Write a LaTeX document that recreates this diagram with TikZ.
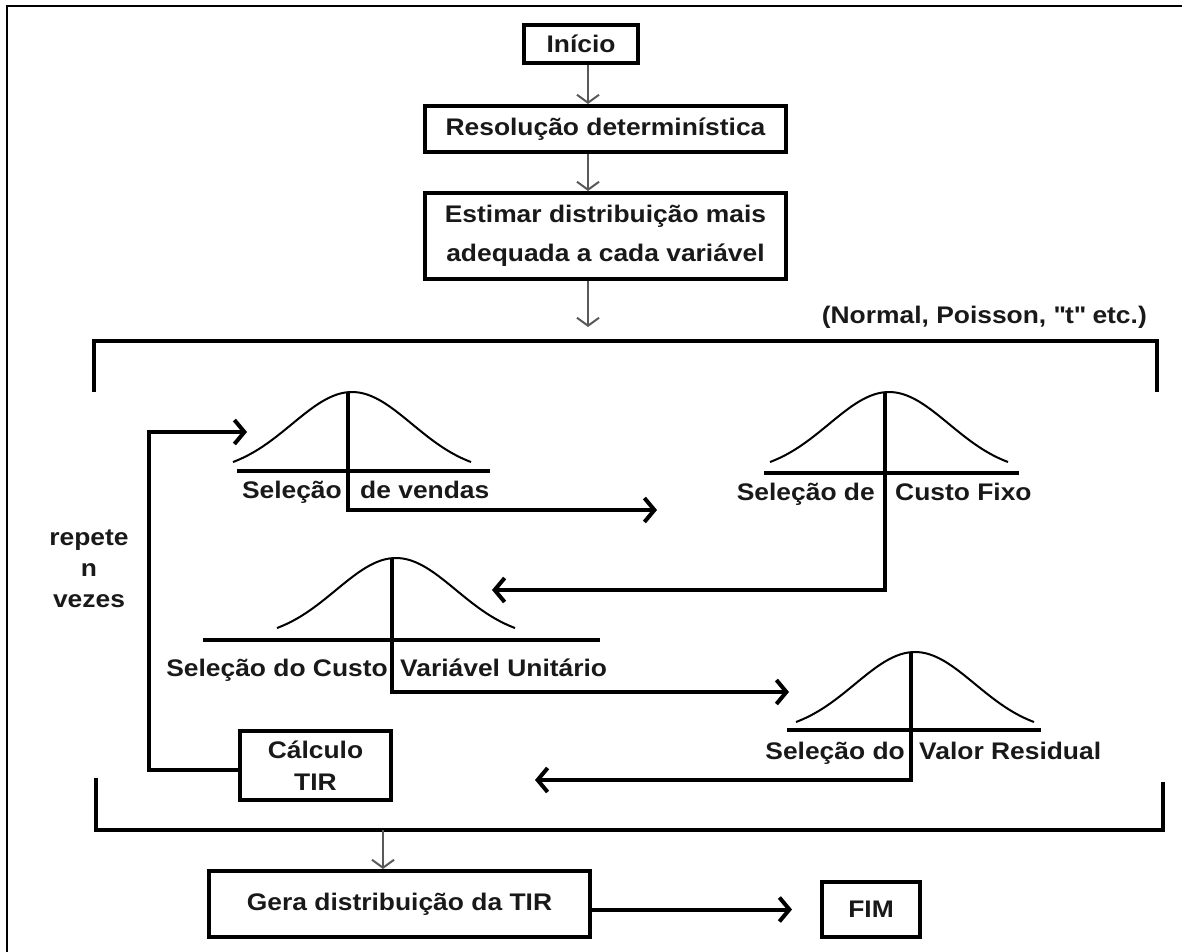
\documentclass[tikz,border=0pt]{standalone}
\usepackage{fontspec}
\setmainfont{Liberation Sans}[FakeStretch=1.1]
\usetikzlibrary{positioning, arrows.meta}

\begin{document}
\begin{tikzpicture}[x=1pt, y=-1pt,
        every node/.style={font=\fontsize{24}{36}\selectfont\bfseries, text=black!90},
        box/.style={rectangle, draw, line width=4pt, align=center, inner sep=0pt, minimum width=#1},
        lbl/.style={inner sep=0pt},
        thinarrow/.style={-{Straight Barb[length=8pt, width=22pt]}, line width=2pt, draw=black!65},
        flow/.style={-{Straight Barb[length=10pt, width=24pt]}, line width=4pt},
        bracket/.style={line width=4pt},
        bell/.style={line width=2pt}
    ]
    \useasboundingbox (0,0) rectangle (1182,952);
    \draw[line width=2pt] (7,6) rectangle (1200,970);
%
    \node[box=114pt, minimum height=38pt] (inicio) at (581,44) {Início};
    \node[box=361pt, minimum height=46pt, below=39pt of inicio, xshift=24.5pt] (resol) {Resolução determinística};
    \node[box=361pt, minimum height=86pt, below=37pt of resol, font=\fontsize{24}{39}\selectfont\bfseries] (estimar) {Estimar distribuição mais\\adequada a cada variável};
    \coordinate (dist) at (588,327);
    \node[lbl, anchor=east] (tipos) at (1147,317) {(Normal, Poisson, \textquotedbl t\textquotedbl\ etc.)};
%
    \draw[thinarrow] ([xshift=7pt]inicio.south) -- ([xshift=7pt]inicio.south |- resol.north);
    \draw[thinarrow] ([xshift=-17.5pt]resol.south) -- ([xshift=-17.5pt]resol.south |- estimar.north);
    \draw[thinarrow] ([xshift=-17.5pt]estimar.south) -- (dist);
%
    % chaves
    \draw[bracket] (94,392) |- (1157,341) -- (1157,392);
    \draw[bracket] (96,778) |- (1163,830) -- (1163,782);
%
    % distribuicoes
    \coordinate (peak1) at (348,392);
    \coordinate (peak2) at (885,392);
    \coordinate (peak3) at (392,558);
    \coordinate (peak4) at (911,652);
    \foreach \px/\py/\bl/\br/\by in {348/392/237/490/471, 885/392/764/1019/473, 392/558/203/600/640, 911/652/787/1041/730} {
        \draw[bell] plot[domain=-119:119, samples=60, smooth] ({\px+4+\x}, {\py+81.4*(1-exp(-0.5*(\x/60)^2))});
        \draw[bracket] (\bl,\by) -- (\br,\by);
    }
%
    \node[lbl, anchor=base east] (sel1a) at (342,498) {Seleção};
    \node[lbl, anchor=base west] (sel1b) at (360,498) {de vendas};
    \node[lbl, anchor=base east] (sel2a) at (875,500) {Seleção de};
    \node[lbl, anchor=base west] (sel2b) at (895,500) {Custo Fixo};
    \node[lbl, anchor=base east] (sel3a) at (388,676) {Seleção do Custo};
    \node[lbl, anchor=base west] (sel3b) at (400,676) {Variável Unitário};
    \node[lbl, anchor=base east] (sel4a) at (905,759) {Seleção do};
    \node[lbl, anchor=base west] (sel4b) at (919,759) {Valor Residual};
%
    \coordinate (end1) at (657,510);
    \coordinate (end2) at (492,590);
    \coordinate (end3) at (789,692);
    \coordinate (end4) at (535,780);
    \draw[flow] (peak1) |- (end1);
    \draw[flow] (peak2) |- (end2);
    \draw[flow] (peak3) |- (end3);
    \draw[flow] (peak4) |- (end4);
%
    \node[box=151pt, minimum height=69pt, font=\fontsize{24}{32}\selectfont\bfseries] (calc) at (315.5,765.5) {Cálculo\\TIR};
    \node[lbl, align=center, font=\fontsize{24}{31}\selectfont\bfseries] (repete) at (89,569) {repete\\n\\vezes};
    \coordinate (loop) at (247,432);
    \draw[flow] ([yshift=-4pt]calc.west) -- ++(-89,0) |- (loop);
%
    \coordinate (saida) at (383,830);
    \node[box=381pt, minimum height=66pt] (gera) at (399.5,904) {Gera distribuição da TIR};
    \node[box=98pt, minimum height=55pt] (fim) at (871,909.5) {FIM};
    \draw[thinarrow] (saida) -- (saida |- gera.north);
    \draw[flow, shorten >=28pt] (gera.east |- fim.west) -- (fim.west);
%
\end{tikzpicture}
\end{document}
